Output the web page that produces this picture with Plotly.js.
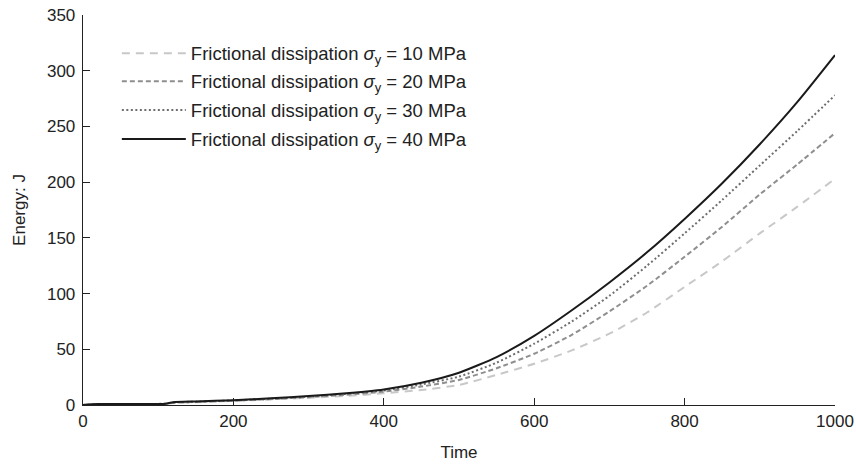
<!DOCTYPE html>
<html>
<head>
<meta charset="utf-8">
<script src="https://cdn.plot.ly/plotly-3.0.1.min.js"></script>
<style>html,body{margin:0;padding:0;background:#fff;}#chart{width:856px;height:464px;}</style>
</head>
<body>
<div id="chart"></div>
<script>
const time = [0, 20, 50, 100, 110, 120, 150, 200, 250, 300, 350, 400, 450, 500, 550, 600, 650, 700, 750, 800, 850, 900, 950, 1000];
const e10 = [0, 0.6, 0.8, 0.9, 1.0, 1.8, 2.5, 3.7, 5.0, 6.5, 8.2, 10.5, 13.5, 18, 27, 37, 49, 64, 83, 106, 129, 154, 178, 203];
const e20 = [0, 0.7, 0.9, 1.0, 1.1, 2.0, 2.7, 3.9, 5.3, 7.0, 9.2, 12, 16.5, 22.5, 33, 46, 63, 84, 107, 133, 160, 189, 216, 244];
const e30 = [0, 0.8, 1.0, 1.0, 1.2, 2.3, 3.0, 4.1, 5.6, 7.5, 10, 13, 18.5, 25.5, 38, 55, 75, 98, 125, 154, 184, 215, 246, 278];
const e40 = [0, 0.8, 1.0, 1.0, 1.2, 2.5, 3.2, 4.3, 6.0, 8.0, 10.5, 14, 20, 29, 43, 62, 85, 110, 137, 167, 199, 234, 272, 314];
const names = [
  "Frictional dissipation <i>σ</i><sub>y</sub> = 10 MPa",
  "Frictional dissipation <i>σ</i><sub>y</sub> = 20 MPa",
  "Frictional dissipation <i>σ</i><sub>y</sub> = 30 MPa",
  "Frictional dissipation <i>σ</i><sub>y</sub> = 40 MPa"
];
const series = [e10, e20, e30, e40];
const colors = ["#c8c8c8", "#8f8f8f", "#6e6e6e", "#1a1a1a"];
const dashes = ["8px,6px", "5px,3px", "2px,2.5px", "solid"];
const legendIds = ["legend", "legend2", "legend3", "legend4"];
const traces = series.map((s, i) => ({
  x: time, y: s, type: "scatter", mode: "lines", name: names[i], legend: legendIds[i],
  line: {color: colors[i], width: 2, dash: dashes[i], shape: "spline", smoothing: 0.6}
}));
const legendY = [0.901, 0.829, 0.755, 0.681];
const layout = {
  width: 856, height: 464,
  margin: {l: 83, r: 21, t: 15, b: 59},
  paper_bgcolor: "#fff", plot_bgcolor: "#fff",
  font: {family: "Liberation Sans, Arial, sans-serif", size: 17, color: "#222"},
  showlegend: true,
  xaxis: {range: [0, 1000], tickvals: [0, 200, 400, 600, 800, 1000], showgrid: false, zeroline: false,
          showline: true, linecolor: "#222", linewidth: 1.3, ticks: "inside", ticklen: 7, tickcolor: "#222",
          tickfont: {size: 17},
          title: {text: "Time", font: {size: 17}, standoff: 16}},
  yaxis: {range: [0, 350], tickvals: [0, 50, 100, 150, 200, 250, 300, 350], showgrid: false, zeroline: false,
          showline: true, linecolor: "#222", linewidth: 1.3, ticks: "inside", ticklen: 7, tickcolor: "#222",
          tickfont: {size: 17}, ticklabelstandoff: 3,
          title: {text: "Energy: J", font: {size: 17}, standoff: 17}}
};
legendIds.forEach((id, i) => {
  layout[id] = {x: 0.045, y: legendY[i], xanchor: "left", yanchor: "middle", bgcolor: "rgba(0,0,0,0)",
                font: {size: 18.5, color: "#222"}, itemwidth: 64};
});
Plotly.newPlot("chart", traces, layout, {displayModeBar: false, staticPlot: true});
</script>
</body>
</html>
